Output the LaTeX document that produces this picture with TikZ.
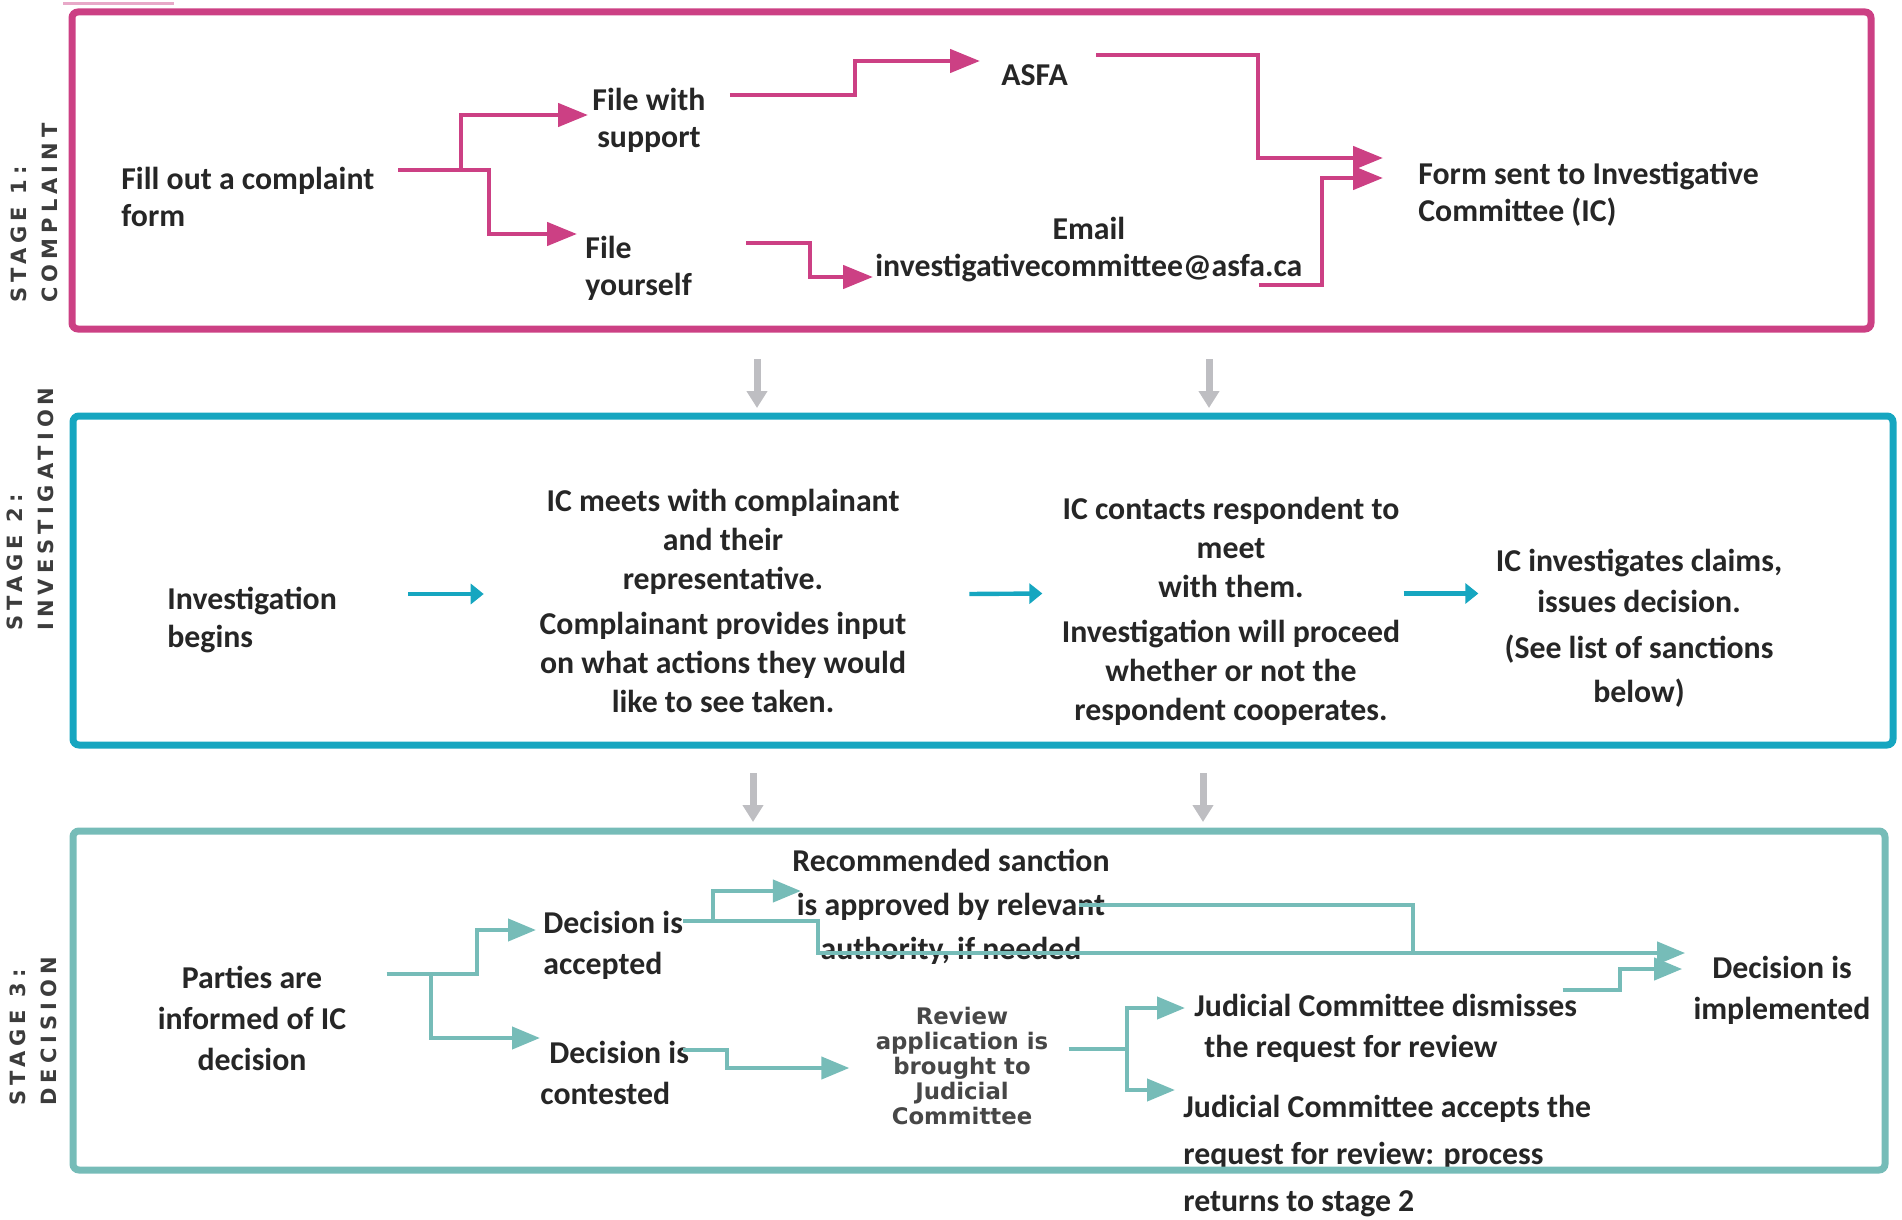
\documentclass[tikz,border=0pt]{standalone}
\usepackage{fontspec}
\setmainfont{Carlito}
\newfontfamily\stagefont{DejaVu Sans}[LetterSpace=24]
\newfontfamily\reviewfont{DejaVu Sans}
\usetikzlibrary{arrows.meta}

\definecolor{complaintpink}{RGB}{204,64,132}
\definecolor{investblue}{RGB}{22,166,192}
\definecolor{decisionteal}{RGB}{118,188,184}
\definecolor{stepgrey}{RGB}{190,190,194}
\definecolor{ink}{RGB}{38,38,38}
\definecolor{labelgrey}{RGB}{60,60,60}

\tikzset{
  txt/.style={inner sep=0pt, text=ink, font=\fontsize{15.9}{#1}\selectfont\bfseries},
  txt/.default=18.5,
  reviewtxt/.style={inner sep=0pt, align=center, text=ink!85, font=\reviewfont\bfseries\fontsize{11.4}{12.5}\selectfont},
  stagelbl/.style={inner sep=0pt, rotate=90, anchor=west, align=left, text=labelgrey, font=\stagefont\bfseries\fontsize{10.5}{15.5}\selectfont},
  stagebox/.style={line width=3.5pt, rounded corners=3pt},
  pk/.style={draw=complaintpink, line width=2.3pt},
  pkarrow/.style={pk, -{Triangle[length=15pt,width=11.5pt]}},
  bl/.style={draw=investblue, line width=2.2pt, -{Triangle[length=6.5pt,width=10pt]}},
  tl/.style={draw=decisionteal, line width=2.1pt},
  tlarrow/.style={tl, -{Triangle[length=14pt,width=11pt]}},
  greyarrow/.style={draw=stepgrey, line width=3.5pt, -{Triangle[length=8.5pt,width=10pt]}}
}

\begin{document}
\begin{tikzpicture}[x=0.5pt,y=-0.5pt]
\useasboundingbox (0,0) rectangle (1902,1220);

\node[stagelbl] (lbl1) at (34,303) {STAGE 1:\\COMPLAINT};
\node[stagelbl] (lbl2) at (30,631) {STAGE 2:\\INVESTIGATION};
\node[stagelbl] (lbl3) at (33,1106) {STAGE 3:\\DECISION};

\node[txt, anchor=west, align=left] (fill) at (121,197) {Fill out a complaint\\form};
\node[txt, anchor=west, align=center] (withsupport) at (592,120) {File with\\support};
\node[txt, anchor=west, align=left] (yourself) at (585,268) {File\\yourself};
\node[txt, anchor=west] (asfa) at (1001,75) {ASFA};
\node[txt, anchor=west, align=center] (email) at (875,250) {Email\\investigativecommittee@asfa.ca};
\node[txt, anchor=west, align=left] (formsent) at (1418,194) {Form sent to Investigative\\Committee (IC)};

\node[txt=19.25, anchor=west, align=left] (begins) at (167,620) {Investigation\\begins};
\node[txt=19.5, align=center] (meets) at (723,601) {IC meets with complainant\\and their\\representative.\\[3pt]Complainant provides input\\on what actions they would\\like to see taken.};
\node[txt=19.5, align=center] (contacts) at (1231,611) {IC contacts respondent to\\meet\\with them.\\[3pt]Investigation will proceed\\whether or not the\\respondent cooperates.};
\node[txt=20.5, align=center] (claims) at (1639,628) {IC investigates claims,\\issues decision.\\[2.5pt](See list of sanctions\\[1.5pt]below)};

\node[txt=20.5, align=center] (parties) at (252,1018) {Parties are\\informed of IC\\decision};
\node[txt=20.5, anchor=west, align=left] (accepted) at (543,945) {Decision is\\accepted};
\node[txt=20.5, anchor=west, align=left] (contested) at (540,1073) {\hspace{4.5pt}Decision is\\contested};
\node[txt=22, align=center] (sanction) at (951,907) {Recommended sanction\\is approved by relevant\\authority, if needed};
\node[reviewtxt] (review) at (962,1066) {Review\\application is\\brought to\\Judicial\\Committee};
\node[txt=20.5, anchor=west, align=left] (dismiss) at (1194,1028) {Judicial Committee dismisses\\\hspace{5pt}the request for review};
\node[txt=23.5, anchor=west, align=left] (accepts) at (1183,1156) {Judicial Committee accepts the\\request for review: process\\returns to stage 2};
\node[txt=20.5, align=center] (implemented) at (1782,990) {Decision is\\implemented};

\draw[draw=complaintpink!45, line width=1.5pt] (63,4) -- (174,4);
\draw[stagebox, draw=complaintpink] (72,12) rectangle (1871,329);
\draw[stagebox, draw=investblue] (73,416) rectangle (1893,745);
\draw[stagebox, draw=decisionteal] (73,831) rectangle (1885,1170);

\draw[greyarrow] (757,359) -- (757,408);
\draw[greyarrow] (1209,359) -- (1209,408);
\draw[greyarrow] (753,773) -- (753,822);
\draw[greyarrow] (1203,773) -- (1203,822);

\coordinate (fillout) at (398,170);
\draw[pkarrow] (fillout) -- (461,170) |- ([xshift=-2pt,yshift=2.5pt]withsupport.west);
\draw[pkarrow] (fillout) -- (489,170) |- ([xshift=-4pt,yshift=17pt]yourself.west);
\draw[pkarrow] ([xshift=12pt,yshift=12.5pt]withsupport.east) -- (855,95) |- ([xshift=-10.5pt,yshift=7pt]asfa.west);
\draw[pkarrow] ([xshift=14pt,yshift=10pt]asfa.east) -- (1258,55) |- ([xshift=-17.5pt,yshift=18pt]formsent.west);
\draw[pkarrow] ([xshift=27pt,yshift=12.5pt]yourself.east) -- (810,243) |- ([xshift=-1pt,yshift=-13.5pt]email.west);
\draw[pkarrow] ([xshift=-22pt,yshift=-17.5pt]email.east) -- (1322,285) |- ([xshift=-17.5pt,yshift=8pt]formsent.west);

\draw[bl] ([xshift=35.5pt,yshift=13pt]begins.east) -- ([xshift=-27.75pt,yshift=3.5pt]meets.west);
\draw[bl] ([xshift=31.25pt,yshift=3.5pt]meets.east) -- ([xshift=-9.5pt,yshift=8.75pt]contacts.west);
\draw[bl] ([xshift=1.5pt,yshift=8.75pt]contacts.east) -- ([xshift=-8.5pt,yshift=17.25pt]claims.west);

\coordinate (partiesjoin) at (431,974);
\draw[tlarrow] ([xshift=20pt,yshift=22pt]parties.east) -- (477,974) |- ([xshift=-3.5pt,yshift=7.5pt]accepted.west);
\draw[tlarrow] (partiesjoin) |- ([yshift=17.5pt]contested.west);
\coordinate (acceptjoin) at (713,921);
\draw[tlarrow] ([yshift=12pt]accepted.east) -- (acceptjoin) |- ([xshift=4.5pt,yshift=8pt]sanction.west);
\draw[tlarrow] (acceptjoin) -- (818,921) |- ([xshift=-4pt,yshift=18.5pt]implemented.west);
\draw[tl] ([xshift=-15.5pt,yshift=1pt]sanction.east) -- (1413,905) -- (1413,953);
\draw[tlarrow] ([xshift=-3pt,yshift=11.5pt]contested.east) -- (727,1050) |- ([xshift=-13pt,yshift=-1pt]review.west);
\coordinate (reviewjoin) at (1127,1049);
\draw[tlarrow] ([xshift=10pt,yshift=8.5pt]review.east) -- (reviewjoin) |- ([xshift=-4.5pt,yshift=10pt]dismiss.west);
\draw[tlarrow] (reviewjoin) |- ([xshift=-4pt,yshift=33pt]accepts.west);
\draw[tlarrow] ([xshift=-7.5pt,yshift=19pt]dismiss.east) -- (1620,990) |- ([xshift=-5.5pt,yshift=10.5pt]implemented.west);
\end{tikzpicture}
\end{document}
